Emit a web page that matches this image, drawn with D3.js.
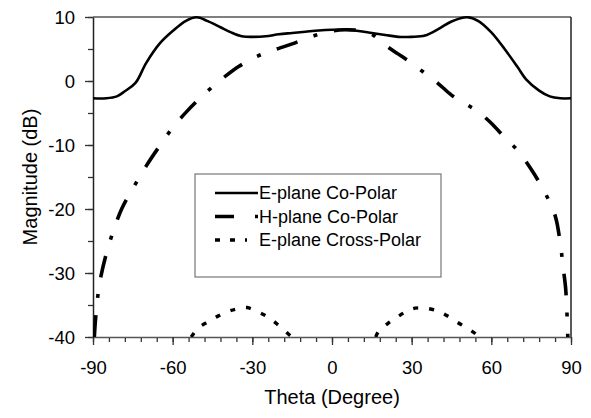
<!DOCTYPE html>
<html>
<head>
<meta charset="utf-8">
<script src="https://cdn.jsdelivr.net/npm/d3@7"></script>
<style>
  body { margin: 0; background: #fff; }
  text { font-family: Arial, "Liberation Sans", sans-serif; }
</style>
</head>
<body>
<div id="chart"></div>
<script>
// data (theta in degrees, magnitude in dB)
const eTheta = [-90, -85, -81, -78, -74, -70, -65, -60, -55, -51, -47, -42, -38, -34, -30, -25, -20, -15, -10, -5, 0, 5, 10, 15, 20, 25, 30, 35, 40, 45, 51, 55, 60, 65, 70, 73, 78, 82, 86, 90]
const eCoPolar = [-2.7, -2.7, -2.4, -1.6, -0.3, 2.8, 5.8, 7.8, 9.4, 9.95, 9.4, 8.4, 7.6, 7.0, 6.9, 7.0, 7.3, 7.5, 7.7, 7.9, 8.0, 8.0, 7.8, 7.5, 7.2, 6.9, 6.9, 7.1, 8.1, 9.3, 9.95, 9.4, 7.6, 5.0, 2.1, 0.3, -1.5, -2.4, -2.7, -2.7]

const hTheta = [-89.5, -89, -88, -87, -85, -82, -79, -75, -70, -65, -60, -55, -50, -45, -40, -35, -30, -25, -20, -15, -10, -5, 0, 5, 10, 15, 20, 25, 30, 35, 40, 45, 50, 55, 60, 65, 70, 75, 80, 84, 86, 87, 88, 88.8]
const hCoPolar = [-40, -37, -33, -30.5, -27, -23, -19.8, -16.8, -13.3, -10.2, -7.3, -4.9, -2.8, -0.9, 0.8, 2.3, 3.5, 4.4, 5.1, 5.8, 6.6, 7.3, 7.8, 8.0, 7.9, 7.3, 5.6, 4.2, 2.8, 1.2, -0.4, -2.2, -3.5, -4.8, -6.6, -8.8, -10.9, -13.8, -17.3, -21, -25.5, -29, -32.5, -40]

const xLeftTheta = [-53, -50.4, -46, -42.8, -39, -35.7, -32, -27.7, -24, -20.6, -15.7, -15]
const xLeftPolar = [-40, -38.6, -37.5, -36.7, -36, -35.6, -35.4, -36.1, -36.9, -38, -39.8, -40]
const xRightTheta = [16.5, 17.4, 21, 24.5, 28, 31.3, 35, 39.6, 43, 47.2, 54, 55]
const xRightPolar = [-40, -39.2, -37.9, -36.9, -36, -35.5, -35.5, -35.9, -36.6, -37.7, -39.5, -40]

const xTicks = [-90, -60, -30, 0, 30, 60, 90]
const yTicks = [-40, -30, -20, -10, 0, 10]
const legendLabels = ["E-plane Co-Polar", "H-plane Co-Polar", "E-plane Cross-Polar"]

const W = 591, H = 418
const margin = {top: 17, right: 20, bottom: 81, left: 93}
const width = W - margin.left - margin.right
const height = H - margin.top - margin.bottom

const svg = d3.select("#chart").append("svg")
    .attr("width", W)
    .attr("height", H)

const g = svg.append("g")
    .attr("transform", `translate(${margin.left},${margin.top})`)

const x = d3.scaleLinear().domain([-90, 90]).range([0, width])
const y = d3.scaleLinear().domain([-40, 10]).range([height, 0])

g.append("clipPath")
    .attr("id", "clip")
  .append("rect")
    .attr("x", 0).attr("y", -2)
    .attr("width", width).attr("height", height + 2)

// frame on top and right
g.append("line")
    .attr("x1", 0).attr("x2", width).attr("y1", 0).attr("y2", 0)
    .attr("stroke", "#555").attr("stroke-width", 1.5)
g.append("line")
    .attr("x1", width).attr("x2", width).attr("y1", 0).attr("y2", height)
    .attr("stroke", "#222").attr("stroke-width", 1.5)

// minor ticks
g.append("g")
    .attr("transform", `translate(0,${height})`)
    .call(d3.axisBottom(x).tickValues(d3.range(-90, 91, 6)).tickSize(5).tickFormat(""))
    .call(a => a.select(".domain").remove())
g.append("g")
    .call(d3.axisLeft(y).tickValues(d3.range(-40, 11, 5)).tickSize(5).tickFormat(""))
    .call(a => a.select(".domain").remove())

const fmt = d => String(d)   // plain hyphen minus like the original

const xAxis = g.append("g")
    .attr("transform", `translate(0,${height})`)
    .call(d3.axisBottom(x).tickValues(xTicks).tickFormat(fmt).tickSize(8).tickSizeOuter(0).tickPadding(16))
const yAxis = g.append("g")
    .call(d3.axisLeft(y).tickValues(yTicks).tickFormat(fmt).tickSize(8).tickSizeOuter(0).tickPadding(10))

svg.selectAll(".tick line").attr("stroke", "#333").attr("stroke-width", 1.3)
xAxis.select(".domain").attr("stroke", "#555").attr("stroke-width", 1.5)
yAxis.select(".domain").attr("stroke", "#222").attr("stroke-width", 1.5)
svg.selectAll(".tick text")
    .attr("font-size", 18.5)
    .attr("fill", "#000")
    .style("font-family", "Arial, 'Liberation Sans', sans-serif")
yAxis.selectAll(".tick text").attr("dy", "0.35em")

// axis titles
svg.append("text")
    .attr("x", margin.left + width / 2)
    .attr("y", 404)
    .attr("text-anchor", "middle")
    .attr("font-size", 20)
    .text("Theta (Degree)")
svg.append("text")
    .attr("transform", `translate(37,${margin.top + height / 2}) rotate(-90)`)
    .attr("text-anchor", "middle")
    .attr("font-size", 20)
    .text("Magnitude (dB)")

const line = d3.line()
    .x(d => x(d[0]))
    .y(d => y(d[1]))
    .curve(d3.curveCatmullRom)

const plot = g.append("g").attr("clip-path", "url(#clip)")

const styles = [
  {width: 2.6, dash: null},
  {width: 3.6, dash: "22,17,4,17"},
  {width: 3.4, dash: "5,11"}
]

plot.append("path")
    .datum(d3.zip(eTheta, eCoPolar))
    .attr("d", line).attr("fill", "none").attr("stroke", "#000")
    .attr("stroke-width", styles[0].width)

plot.append("path")
    .datum(d3.zip(hTheta, hCoPolar))
    .attr("d", line).attr("fill", "none").attr("stroke", "#000")
    .attr("stroke-width", styles[1].width)
    .attr("stroke-dasharray", styles[1].dash)

plot.selectAll(".cross")
    .data([d3.zip(xLeftTheta, xLeftPolar), d3.zip(xRightTheta, xRightPolar)])
    .join("path")
    .attr("class", "cross")
    .attr("d", line).attr("fill", "none").attr("stroke", "#000")
    .attr("stroke-width", styles[2].width)
    .attr("stroke-dasharray", styles[2].dash)

// legend
const legend = svg.append("g").attr("transform", "translate(195,174)")
legend.append("rect")
    .attr("width", 246).attr("height", 103)
    .attr("fill", "#fff").attr("stroke", "#777").attr("stroke-width", 1.2)

const rows = legend.selectAll(".row")
    .data(legendLabels)
    .join("g")
    .attr("class", "row")
    .attr("transform", (d, i) => `translate(0,${19 + i * 23.5})`)

rows.append("line")
    .attr("x1", 20).attr("x2", 63)
    .attr("stroke", "#000")
    .attr("stroke-width", (d, i) => styles[i].width)
    .attr("stroke-dasharray", (d, i) => i === 1 ? "19,21,3,20" : i === 2 ? "5,10,5,10,2,20" : null)

rows.append("text")
    .attr("x", 64)
    .attr("dy", "0.35em")
    .attr("font-size", 18)
    .text(d => d)
</script>
</body>
</html>
